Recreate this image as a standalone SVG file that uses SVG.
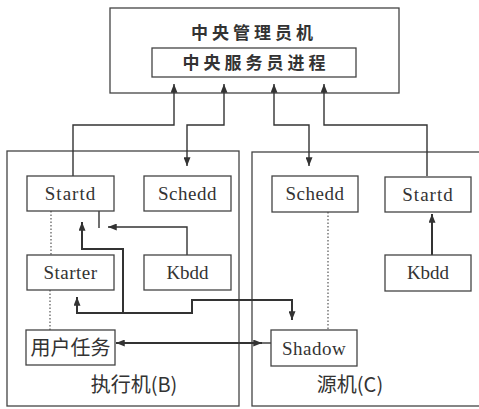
<svg xmlns="http://www.w3.org/2000/svg" width="479" height="409" viewBox="0 0 479 409">
<defs>
<marker id="ah" viewBox="0 0 10 8" refX="10" refY="4" markerWidth="9" markerHeight="7" markerUnits="userSpaceOnUse" orient="auto-start-reverse">
<path d="M0,0 L10,4 L0,8 Z" fill="#333"/>
</marker>
<style>
.box{fill:none;stroke:#444;stroke-width:1.3}
.node{fill:#fff;stroke:#444;stroke-width:1.3}
.ln{fill:none;stroke:#333;stroke-width:1.4}
.thk{fill:none;stroke:#333;stroke-width:2}
.dot{fill:none;stroke:#555;stroke-width:1.2;stroke-dasharray:1.5 2}
.en{font-family:"Liberation Serif","DejaVu Serif",serif;font-size:19px;fill:#333;text-anchor:middle}
.cn{font-family:"Noto Sans CJK SC",sans-serif;fill:#333;text-anchor:middle}
</style>
</defs>
<rect width="479" height="409" fill="#fff"/>
<g id="central">
<rect class="box" x="110" y="8" width="289" height="85"/>
<text class="cn" x="254" y="39" font-size="17" font-weight="bold" letter-spacing="4">中央管理员机</text>
</g>
<g id="central-proc">
<rect class="box" x="152" y="48" width="204" height="29"/>
<text class="cn" x="256" y="69" font-size="17" font-weight="bold" letter-spacing="4">中央服务员进程</text>
</g>
<g id="machineB">
<rect class="box" x="7" y="151" width="232" height="255"/>
<text class="cn" x="134" y="392" font-size="20">执行机(B)</text>
</g>
<g id="machineC">
<rect class="box" x="252" y="152" width="240" height="254"/>
<text class="cn" x="350" y="392" font-size="20">源机(C)</text>
</g>
<g id="connectors">
<path class="ln" d="M73,176 V125 H174 V84" marker-end="url(#ah)"/>
<path class="ln" d="M224,84 V125 H187 V166" marker-start="url(#ah)" marker-end="url(#ah)"/>
<path class="ln" d="M274,84 V125 H309 V166" marker-start="url(#ah)" marker-end="url(#ah)"/>
<path class="ln" d="M427,176 V125 H324 V84" marker-end="url(#ah)"/>
<path class="thk" d="M432,255 V214" marker-end="url(#ah)"/>
<path class="ln" d="M187,255 V227 H108" marker-end="url(#ah)"/>
<path class="ln" d="M99,211 V228"/>
<path class="thk" d="M123,313 V249 H82 V222" marker-end="url(#ah)"/>
<path class="thk" d="M292,320 V300 H192 V313 H77 V297" marker-start="url(#ah)" marker-end="url(#ah)"/>
<path class="thk" d="M116,343 H262" marker-start="url(#ah)" marker-end="url(#ah)"/>
<path class="ln" d="M262,343 H271"/>
<path class="dot" d="M51,211 V255"/>
<path class="dot" d="M50,290 V330"/>
<path class="dot" d="M328,212 V330"/>
</g>
<g id="startdB">
<rect class="node" x="27" y="176" width="87" height="35"/>
<text class="en" x="70.5" y="200" letter-spacing="1">Startd</text>
</g>
<g id="scheddB">
<rect class="node" x="144" y="176" width="87" height="35"/>
<text class="en" x="187.5" y="200" letter-spacing="0.5">Schedd</text>
</g>
<g id="starter">
<rect class="node" x="27" y="255" width="87" height="35"/>
<text class="en" x="70.5" y="279" letter-spacing="0.5">Starter</text>
</g>
<g id="kbddB">
<rect class="node" x="144" y="255" width="87" height="35"/>
<text class="en" x="187.5" y="279">Kbdd</text>
</g>
<g id="usertask">
<rect class="node" x="26" y="330" width="89" height="35"/>
<text class="cn" x="70.5" y="355" font-size="20">用户任务</text>
</g>
<g id="scheddC">
<rect class="node" x="272" y="176" width="86" height="36"/>
<text class="en" x="315" y="200" letter-spacing="0.5">Schedd</text>
</g>
<g id="startdC">
<rect class="node" x="385" y="177" width="86" height="35"/>
<text class="en" x="428" y="201" letter-spacing="1">Startd</text>
</g>
<g id="kbddC">
<rect class="node" x="385" y="255" width="86" height="36"/>
<text class="en" x="428" y="279">Kbdd</text>
</g>
<g id="shadow">
<rect class="node" x="271" y="330" width="86" height="36"/>
<text class="en" x="314" y="355" letter-spacing="0.5">Shadow</text>
</g>
</svg>
